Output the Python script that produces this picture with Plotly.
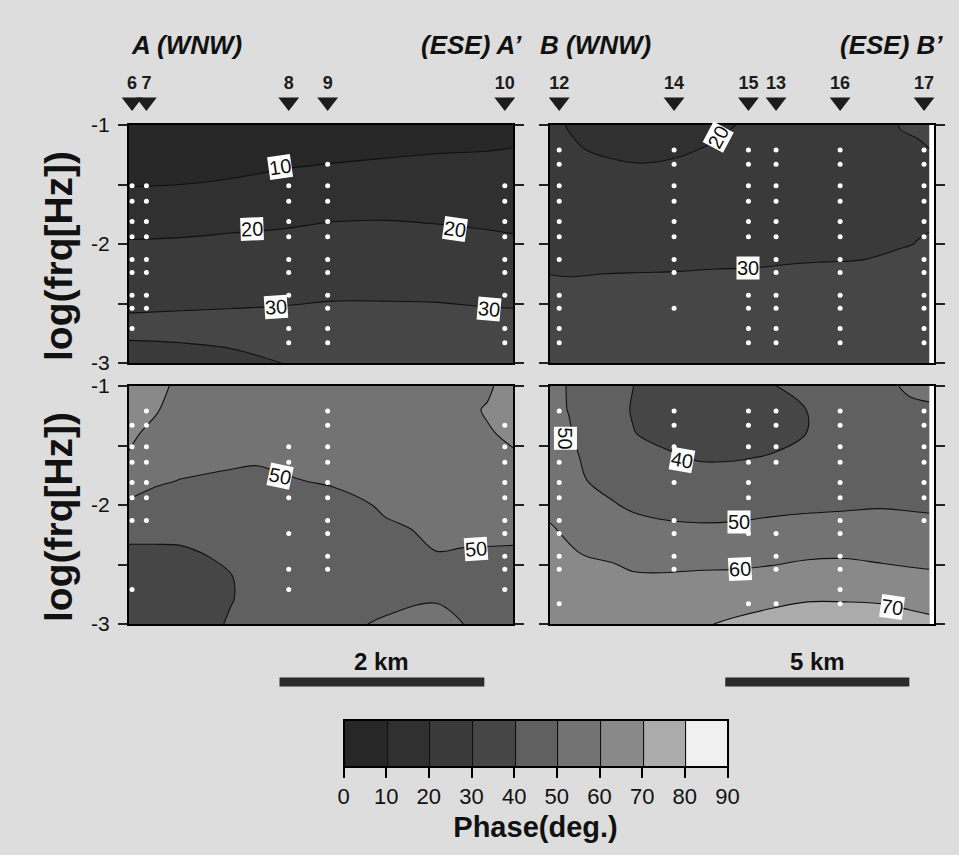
import plotly.graph_objects as go

FONT = "Liberation Sans, Arial, Helvetica, sans-serif"
W, H = 959, 855
PAPER = "#dddddd"

# ---------------- data ----------------
# contour grid rows: log10(frequency [Hz])
grid_logf = [-1.0, -1.2, -1.4, -1.6, -1.8, -2.0, -2.2, -2.4, -2.6, -2.8, -3.0]
# sampled frequencies (white dots)
sample_logf = [-1.21, -1.33, -1.51, -1.64, -1.81, -1.94, -2.13, -2.24, -2.43, -2.54, -2.71, -2.83]

# ---- profile A ----
stations_A = ["6", "7", "8", "9", "10"]
stations_A_km = [0.03, 0.17, 1.56, 1.94, 3.67]
profile_A_km = 3.75

gridA_top_km = [0, 0.5, 1.0, 1.5, 2.0, 2.5, 3.0, 3.5, 3.75]
phaseA_top_cols = [  # one list per grid column, rows follow grid_logf
    [1, 3, 7.2, 11.9, 16.5, 20.8, 24.0, 27.1, 30.3, 30.2, 26],
    [1, 3.0, 7.7, 12.3, 17.0, 21.1, 24.3, 27.5, 30.6, 31, 24.3],
    [0.5, 4.3, 8.9, 13.4, 18.0, 21.7, 24.8, 27.8, 30.9, 32, 27],
    [2.4, 6.5, 10.6, 14.7, 18.8, 22.1, 25.2, 28.2, 31.2, 32, 30.1],
    [3.5, 7.6, 11.6, 15.7, 19.8, 22.8, 25.8, 28.8, 31.8, 33, 34],
    [4.6, 8.5, 12.3, 16.2, 19.98, 22.9, 25.9, 28.8, 31.8, 33, 34],
    [5.9, 9.3, 12.7, 16.1, 19.5, 22.6, 25.6, 28.6, 31.7, 33, 34],
    [6.7, 9.7, 12.7, 15.8, 18.8, 21.8, 24.9, 28.0, 31.1, 32.5, 33.5],
    [7.2, 10.1, 12.8, 15.6, 18.3, 21.3, 24.5, 27.7, 31.0, 32.5, 33.5],
]
gridA_bot_km = [0, 0.25, 0.5, 0.75, 1.0, 1.25, 1.5, 2.0, 2.5, 3.0, 3.25, 3.5, 3.75]
phaseA_bot_cols = [
    [64, 62.5, 61, 59.6, 54, 48.7, 43.5, 38.1, 36.5, 36, 36],
    [62, 60.6, 58.6, 56.5, 51.5, 45.5, 43, 38.4, 36, 35.5, 35.5],
    [58.5, 57.5, 56, 54, 49.6, 46.5, 43, 38.7, 36, 35.5, 35.5],
    [57.5, 57, 55.5, 53, 48.7, 46.5, 43.5, 40.3, 37.3, 36.5, 36.5],
    [57, 56.5, 55, 52.5, 47.5, 46, 44, 42, 39.8, 39.6, 41.5],
    [57, 56.5, 55, 52, 46.3, 45.5, 44.5, 44, 43.5, 43.5, 44],
    [57, 56.5, 55, 53, 48.7, 46, 45, 44.5, 44.5, 45, 45.5],
    [57, 56.5, 55.5, 54, 51.5, 45.5, 45, 45, 45.5, 46.5, 48],
    [57, 57, 56, 55, 53.5, 51.5, 48.5, 46.5, 46.5, 48, 51],
    [57.5, 57.5, 57, 56, 55, 53.5, 51.5, 49.9, 48, 49.7, 52],
    [59, 58.5, 58, 57, 55.5, 54, 52, 49.5, 47.5, 47.5, 50.2],
    [59, 60.5, 59.5, 58, 56, 54, 52, 49.3, 47.5, 47, 47],
    [63, 62, 61, 59.3, 57, 55, 52.5, 48.9, 47.5, 47, 47],
]
dotsA_top = [[2, 3, 4, 5, 6, 7, 8, 9, 10], [2, 3, 4, 5, 6, 7, 8, 9],
             [2, 3, 4, 5, 6, 7, 8, 10, 11], [1, 2, 3, 4, 5, 6, 7, 8, 9, 10, 11],
             [2, 3, 4, 5, 6, 7, 8, 10, 11]]
dotsA_bot = [[1, 2, 3, 4, 5, 6, 10], [0, 1, 2, 3, 4, 5, 6],
             [2, 3, 5, 7, 9, 10], [0, 1, 2, 3, 4, 5, 6, 7, 8, 9],
             [1, 2, 3, 4, 5, 6, 7, 8, 9, 10]]

# ---- profile B ----
stations_B = ["12", "14", "15", "13", "16", "17"]
stations_B_km = [0.25, 3.37, 5.39, 6.14, 7.88, 10.16]
profile_B_km = 10.43
profile_B_data_km = 10.3

gridB_top_km = [0, 0.5, 1.5, 2.5, 3.5, 4.5, 5.5, 6.5, 7.5, 8.5, 9.5, 10.0, 10.3]
phaseB_top_cols = [
    [21, 22, 23, 24.5, 26, 27.5, 29.5, 31.2, 32.5, 33.5, 34],
    [19.8, 20.6, 22, 23.5, 25, 27, 29.4, 31, 32.5, 33.5, 34],
    [17, 19.2, 21.5, 23, 24.8, 26.8, 29.3, 32.1, 33, 34, 34.5],
    [16, 18.6, 20.9, 22.5, 24.5, 26.5, 29.5, 32, 33, 34, 34.5],
    [17, 19.2, 21.5, 23, 25, 27, 29.6, 32.3, 33, 34, 34.5],
    [18.8, 20.6, 22, 23.5, 25.5, 27.5, 29.9, 31.9, 33, 34, 34.5],
    [21, 22, 23, 24.5, 26, 28, 29.98, 32, 33, 34, 34.5],
    [22, 23, 24, 25, 26.5, 28.3, 30.3, 32, 33, 34, 34.5],
    [23, 24, 24.5, 25.5, 27, 28.5, 30.5, 32, 33, 34, 34.5],
    [26, 26.5, 27, 27.5, 28, 29, 30.5, 32, 33, 34, 34.5],
    [30.1, 29.5, 29.3, 29.2, 29.3, 29.7, 31.2, 32.5, 33, 34, 34.5],
    [31, 29.3, 29.2, 29.3, 29.6, 30.1, 31.5, 32.5, 33, 34, 34.5],
    [31.5, 29.98, 29.5, 29.6, 29.8, 30.2, 31.5, 32.5, 33, 34, 34.5],
]
gridB_bot_km = [0, 0.5, 1.0, 1.75, 2.25, 3.0, 4.0, 5.0, 6.0, 7.0, 8.0, 9.0, 9.75, 10.3]
phaseB_bot_cols = [
    [52, 52.5, 53.5, 55, 56.5, 58.5, 60.5, 62.5, 64, 65, 66],
    [49.7, 49.8, 51, 53, 55, 57, 59, 60.7, 62.5, 64, 65],
    [46, 46, 46.5, 48, 50.1, 52.5, 55.5, 59.5, 62.5, 64, 65],
    [43, 42.5, 43, 44.5, 47, 50.5, 54, 57.5, 63, 64.5, 66],
    [40.1, 39.5, 40.3, 42.5, 45, 48.5, 53.5, 56.5, 60.9, 64, 66],
    [36, 36.5, 38, 41.6, 44, 47.5, 51.7, 55.5, 60.8, 64, 66.5],
    [35, 35.5, 37, 39.5, 42.8, 46.5, 51.2, 55.5, 61.5, 65, 68.8],
    [35, 35.5, 37, 39.5, 42.8, 46.5, 51.5, 55.5, 61.9, 66, 71.5],
    [39.3, 37.5, 38, 40.35, 43, 47, 53, 57, 62.5, 67.5, 74.6],
    [44, 40.1, 40.1, 42.5, 45, 48.5, 52.8, 58.5, 63.5, 69.7, 74],
    [45, 44, 44, 44.5, 46, 49.2, 52.4, 58.5, 64.5, 69.7, 74],
    [47.5, 46, 45, 45, 46.5, 49.5, 52.8, 57, 63.7, 69, 75.7],
    [51.5, 48, 46, 45.5, 46.5, 49.3, 52.1, 56.5, 62.3, 68, 73],
    [53, 48.5, 46.5, 45.5, 46.5, 49, 51.9, 56, 61.7, 67.5, 71.7],
]
dotsB_top = [[0, 1, 2, 3, 4, 5, 6, 8, 9, 10, 11], [0, 1, 2, 3, 4, 5, 6, 7, 9],
             [0, 1, 2, 3, 4, 5, 8, 9, 10, 11], list(range(12)), list(range(12)),
             list(range(12))]
dotsB_bot = [[0, 3, 4, 5, 6, 7, 8, 9, 11], [0, 1, 2, 4, 6, 7, 8, 9],
             [0, 1, 2, 3, 4, 5, 7, 11], [0, 1, 2, 3, 7, 8, 9, 11],
             list(range(12)), [0, 1, 2, 3, 4, 5, 6]]

# contour labels: text, km, logf, angle
labelsA_top = [("10", 1.47, -1.35, -8), ("20", 1.2, -1.87, -2), ("20", 3.18, -1.87, 8),
               ("30", 1.44, -2.53, -4), ("30", 3.52, -2.55, 5)]
labelsA_bot = [("50", 1.47, -1.76, 12), ("50", 3.39, -2.37, -4)]
labelsB_top = [("20", 4.57, -1.1, -62), ("30", 5.38, -2.2, 0)]
labelsB_bot = [("50", 0.41, -1.44, 90), ("40", 3.58, -1.62, 10), ("50", 5.12, -2.14, 0),
               ("60", 5.16, -2.54, -3), ("70", 9.28, -2.86, 8)]

phase_levels = [0, 10, 20, 30, 40, 50, 60, 70, 80, 90]
band_grays = ["#272727", "#303030", "#3a3a3a", "#464646", "#606060",
              "#737373", "#898989", "#ababab", "#f0f0f0"]
scale_bars_km = [2, 5]

# ---------------- figure ----------------
def px_x(p):
    return p / W


def px_y(p):
    return 1 - p / H


cscale = []
nb = len(band_grays)
for i, g in enumerate(band_grays):
    cscale += [[i / nb, g], [(i + 1) / nb, g]]

fig = go.Figure()


def add_panel(xg, cols, xa, ya, showscale=False):
    z = [list(r) for r in zip(*cols)]
    fig.add_trace(go.Contour(
        x=xg, y=grid_logf, z=z, xaxis=xa, yaxis=ya,
        autocontour=False,
        contours=dict(start=phase_levels[0], end=phase_levels[-1],
                      size=phase_levels[1] - phase_levels[0],
                      coloring="fill", showlines=True),
        line=dict(color="#101010", width=1.1),
        colorscale=cscale, zmin=phase_levels[0], zmax=phase_levels[-1],
        showscale=showscale, hoverinfo="skip",
        colorbar=dict(
            orientation="h", x=px_x(535.5), xanchor="center",
            y=px_y(720), yanchor="top",
            len=384, lenmode="pixels", thickness=47, thicknessmode="pixels",
            xpad=0, ypad=0, outlinecolor="black", outlinewidth=2,
            tickvals=phase_levels, ticks="outside", ticklen=10, tickwidth=2,
            tickcolor="black",
            tickfont=dict(size=22, family=FONT, color="#111"),
            title=dict(text="<b>Phase(deg.)</b>", side="bottom",
                       font=dict(size=29, family=FONT, color="#111")),
        ),
    ))


def add_dots(st_km, idx_lists, xa, ya):
    xs, ys = [], []
    for km, idx in zip(st_km, idx_lists):
        for i in idx:
            xs.append(km)
            ys.append(sample_logf[i])
    fig.add_trace(go.Scatter(x=xs, y=ys, xaxis=xa, yaxis=ya, mode="markers",
                             marker=dict(color="white", size=5),
                             hoverinfo="skip", showlegend=False))


def add_stations(names, st_km, xa, ya):
    # station strip axis: 0 = bottom of strip, 1 = top
    fig.add_trace(go.Scatter(x=st_km, y=[0.24] * len(st_km), xaxis=xa, yaxis=ya,
                             mode="markers", cliponaxis=False,
                             marker=dict(symbol="triangle-down", size=18, color="#1c1c1c"),
                             hoverinfo="skip", showlegend=False))
    fig.add_trace(go.Scatter(x=st_km, y=[0.65] * len(st_km), xaxis=xa, yaxis=ya,
                             mode="text", cliponaxis=False, text=names,
                             textposition="middle center",
                             textfont=dict(size=18, family=FONT, color="#1c1c1c",
                                           weight="bold"),
                             hoverinfo="skip", showlegend=False))


add_panel(gridA_top_km, phaseA_top_cols, "x", "y")
add_panel(gridB_top_km, phaseB_top_cols, "x2", "y2")
add_panel(gridA_bot_km, phaseA_bot_cols, "x3", "y3", showscale=True)
add_panel(gridB_bot_km, phaseB_bot_cols, "x4", "y4")

add_dots(stations_A_km, dotsA_top, "x", "y")
add_dots(stations_B_km, dotsB_top, "x2", "y2")
add_dots(stations_A_km, dotsA_bot, "x3", "y3")
add_dots(stations_B_km, dotsB_bot, "x4", "y4")

add_stations(stations_A, stations_A_km, "x", "y5")
add_stations(stations_B, stations_B_km, "x2", "y6")

xA = [px_x(129), px_x(513)]
xB = [px_x(550), px_x(934)]
yT = [px_y(363), px_y(125)]
yBt = [px_y(624), px_y(386)]
yS = [px_y(112), px_y(70)]


def xax(dom, rng, anchor):
    return dict(domain=dom, range=rng, anchor=anchor, showgrid=False, zeroline=False,
                showticklabels=False, ticks="", showline=True, mirror=True,
                linecolor="black", linewidth=2)


def yax(dom, anchor, labels):
    return dict(domain=dom, range=[-3, -1], anchor=anchor, showgrid=False,
                zeroline=False, showline=True, mirror="ticks", linecolor="black",
                linewidth=2, ticks="outside", ticklen=9, tickwidth=1.5,
                tickcolor="#222",
                tickvals=[-1, -1.5, -2, -2.5, -3],
                ticktext=["-1", "", "-2", "", "-3"], showticklabels=labels,
                ticklabelstandoff=4,
                tickfont=dict(size=21, family=FONT, color="#111"))


def sax(anchor):
    return dict(domain=yS, range=[0, 1], anchor=anchor, visible=False,
                showgrid=False, zeroline=False, fixedrange=True)


annotations = []


def add_labels(lbls, xa, ya):
    for t, xk, yl, ang in lbls:
        annotations.append(dict(text=t, x=xk, y=yl, xref=xa, yref=ya, showarrow=False,
                                textangle=ang, bgcolor="white", borderpad=0,
                                font=dict(size=20, family=FONT, color="#111")))


add_labels(labelsA_top, "x", "y")
add_labels(labelsB_top, "x2", "y2")
add_labels(labelsA_bot, "x3", "y3")
add_labels(labelsB_bot, "x4", "y4")

# profile titles
for txt, xp, anc in [("A (WNW)", 129, "left"), ("(ESE) A’", 524, "right"),
                     ("B (WNW)", 538, "left"), ("(ESE) B’", 945, "right")]:
    annotations.append(dict(text="<b><i>" + txt + "</i></b>", x=px_x(xp), y=px_y(45),
                            xref="paper", yref="paper", xanchor=anc, yanchor="middle",
                            showarrow=False,
                            font=dict(size=26, family=FONT, color="#111")))

# y-axis titles
for yc in [256, 517]:
    annotations.append(dict(text="<b>log(frq[Hz])</b>", x=px_x(58), y=px_y(yc),
                            xref="paper", yref="paper", textangle=-90,
                            xanchor="center", yanchor="middle", showarrow=False,
                            font=dict(size=39, family=FONT, color="#111")))

shapes = []
# white strip where profile B data end before the frame
for xr, yr in [("x2", "y2"), ("x4", "y4")]:
    shapes.append(dict(type="rect", xref=xr, yref=yr, x0=profile_B_data_km,
                       x1=profile_B_km, y0=-3, y1=-1, layer="below",
                       fillcolor="white", line=dict(width=0)))

# scale bars
bar_starts = [(1.47, "x3"), (4.76, "x4")]
for (x0, xr), km in zip(bar_starts, scale_bars_km):
    shapes.append(dict(type="line", xref=xr, yref="paper", x0=x0, x1=x0 + km,
                       y0=px_y(682), y1=px_y(682),
                       line=dict(color="#2a2a2a", width=9)))
    annotations.append(dict(text="<b>%d km</b>" % km, x=x0 + km / 2, y=px_y(661),
                            xref=xr, yref="paper", showarrow=False,
                            xanchor="center", yanchor="middle",
                            font=dict(size=24, family=FONT, color="#111")))

fig.update_layout(
    width=W, height=H, autosize=False,
    margin=dict(l=0, r=0, t=0, b=0, pad=0, autoexpand=False),
    paper_bgcolor=PAPER, plot_bgcolor=PAPER,
    showlegend=False,
    xaxis=xax(xA, [0, profile_A_km], "y"),
    yaxis=yax(yT, "x", True),
    xaxis2=xax(xB, [0, profile_B_km], "y2"),
    yaxis2=yax(yT, "x2", False),
    xaxis3=xax(xA, [0, profile_A_km], "y3"),
    yaxis3=yax(yBt, "x3", True),
    xaxis4=xax(xB, [0, profile_B_km], "y4"),
    yaxis4=yax(yBt, "x4", False),
    yaxis5=sax("x"),
    yaxis6=sax("x2"),
    annotations=annotations,
    shapes=shapes,
    font=dict(family=FONT),
)

fig.write_html(
    "out.html",
    config={"displayModeBar": False},
    post_script="document.body.style.margin='0px';"
                "document.body.style.background='#dddddd';"
                "document.body.style.overflow='hidden';",
)
